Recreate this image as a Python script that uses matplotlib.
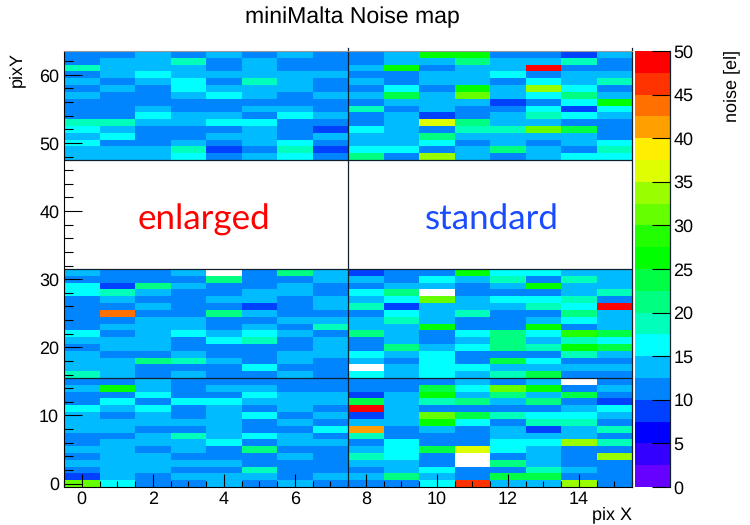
import matplotlib
matplotlib.use('Agg')
import matplotlib.pyplot as plt
from matplotlib.colors import ListedColormap, BoundaryNorm
from matplotlib.ticker import MultipleLocator
import numpy as np

plt.rcParams['font.family'] = ['Liberation Sans', 'DejaVu Sans']
plt.rcParams['text.hinting'] = 'no_hinting'
plt.rcParams['text.hinting_factor'] = 1

# noise per pixel in el, columns are pix X 0..15, first list is the highest pixY
n = np.nan
noise_48_63 = [
    [11, 11, 14, 11, 14, 11, 14, 11, 11, 14, 26, 26, 11, 11, 9, 14],
    [11, 14, 14, 19, 11, 14, 11, 11, 11, 14, 14, 21, 14, 14, 19, 11],
    [19, 14, 14, 14, 11, 14, 11, 11, 14, 26, 11, 14, 14, 49, 11, 11],
    [11, 14, 16, 14, 14, 14, 14, 14, 11, 11, 14, 14, 16, 11, 14, 14],
    [14, 11, 14, 16, 11, 19, 14, 11, 14, 11, 14, 14, 11, 16, 14, 19],
    [11, 14, 11, 16, 14, 14, 14, 11, 11, 16, 11, 26, 14, 34, 16, 11],
    [14, 11, 11, 14, 16, 14, 11, 14, 14, 24, 14, 31, 14, 16, 21, 14],
    [11, 11, 11, 11, 11, 11, 11, 11, 11, 14, 14, 14, 9, 11, 16, 26],
    [11, 11, 14, 11, 11, 14, 14, 11, 19, 11, 14, 11, 11, 16, 9, 16],
    [11, 11, 16, 14, 14, 11, 16, 14, 11, 14, 9, 11, 14, 19, 16, 14],
    [19, 19, 14, 14, 16, 16, 11, 11, 11, 14, 36, 21, 14, 14, 11, 11],
    [16, 14, 11, 11, 11, 14, 11, 9, 16, 14, 11, 19, 19, 31, 24, 11],
    [14, 16, 11, 11, 14, 14, 11, 14, 14, 14, 21, 14, 14, 14, 14, 11],
    [16, 11, 11, 14, 11, 14, 16, 11, 14, 14, 16, 11, 14, 11, 14, 16],
    [14, 14, 14, 19, 9, 11, 19, 9, 16, 16, 11, 14, 21, 14, 11, 19],
    [14, 14, 14, 16, 11, 14, 16, 11, 21, 11, 34, 14, 11, 14, 16, 16],
]
noise_32_47 = [[n] * 16 for _ in range(16)]
noise_16_31 = [
    [14, 11, 11, 14, n, 11, 21, 14, 9, 11, 11, 26, 16, 16, 14, 14],
    [11, 11, 11, 11, 21, 11, 11, 14, 14, 11, 16, 14, 19, 11, 19, 14],
    [16, 9, 21, 14, 11, 11, 14, 11, 11, 14, 14, 11, 14, 26, 14, 14],
    [16, 19, 14, 11, 11, 14, 14, 11, 16, 21, n, 11, 11, 11, 14, 19],
    [11, 14, 11, 11, 14, 14, 11, 14, 14, 16, 31, 14, 16, 16, 19, 11],
    [11, 11, 14, 11, 11, 9, 11, 14, 19, 9, 14, 14, 14, 19, 16, 49],
    [11, 44, 11, 11, 21, 14, 11, 11, 11, 16, 14, 19, 11, 11, 21, 14],
    [11, 11, 14, 14, 11, 11, 14, 14, 14, 19, 14, 11, 11, 14, 16, 14],
    [11, 14, 14, 14, 11, 14, 11, 19, 14, 14, 26, 11, 11, 26, 11, 14],
    [16, 11, 14, 16, 14, 16, 14, 11, 21, 14, 11, 16, 21, 16, 29, 24],
    [14, 14, 14, 11, 16, 19, 11, 14, 11, 14, 11, 14, 21, 14, 19, 16],
    [11, 14, 14, 11, 11, 11, 11, 14, 11, 21, 14, 16, 21, 19, 26, 24],
    [14, 11, 11, 14, 11, 11, 14, 14, 16, 14, 16, 11, 11, 11, 19, 14],
    [14, 14, 21, 19, 14, 11, 14, 11, 14, 11, 16, 11, 24, 16, 11, 11],
    [14, 14, 11, 11, 11, 16, 11, 11, n, 14, 16, 16, 14, 14, 14, 14],
    [19, 14, 11, 14, 11, 11, 14, 11, 16, 14, 16, 14, 19, 24, 11, 11],
]
noise_0_15 = [
    [11, 11, 14, 11, 11, 11, 11, 11, 11, 11, 11, 14, 11, 14, n, 11],
    [14, 26, 14, 11, 14, 14, 11, 11, 11, 11, 24, 16, 31, 26, 11, 14],
    [11, 11, 16, 11, 11, 16, 14, 14, 9, 14, 26, 14, 21, 14, 24, 11],
    [11, 16, 11, 16, 16, 14, 14, 14, 24, 14, 19, 21, 14, 21, 11, 9],
    [16, 14, 16, 11, 14, 11, 14, 11, 49, 14, 11, 11, 11, 11, 14, 16],
    [14, 11, 14, 11, 14, 16, 11, 14, 9, 14, 31, 24, 19, 16, 16, 14],
    [14, 14, 14, 14, 14, 11, 14, 11, 14, 14, 26, 16, 11, 19, 19, 11],
    [14, 14, 11, 11, 14, 11, 11, 16, 41, 11, 14, 11, 14, 9, 14, 19],
    [11, 11, 14, 19, 14, 16, 14, 11, 19, 11, 11, 11, 14, 14, 14, 11],
    [11, 14, 14, 14, 16, 11, 14, 14, 11, 16, 11, 11, 16, 16, 34, 19],
    [14, 14, 11, 14, 11, 21, 11, 11, 14, 16, 24, 36, 16, 14, 11, 11],
    [11, 14, 14, 11, 11, 11, 14, 11, 19, 16, 11, n, 11, 14, 11, 34],
    [14, 14, 14, 14, 14, 11, 11, 11, 14, 14, 11, n, 21, 14, 11, 11],
    [11, 14, 14, 11, 11, 19, 11, 11, 11, 14, 16, 11, 11, 19, 14, 11],
    [9, 14, 11, 14, 14, 14, 11, 14, 14, 21, 14, 11, 24, 24, 11, 11],
    [31, 16, 11, 11, 14, 11, 14, 11, 11, 11, 16, 46, 14, 14, 34, 11],
]

# ROOT rainbow palette, 20 contours between 0 and 50
palette = ['#6600ff', '#3300ff', '#0000ff', '#0040ff', '#0085ff', '#00bbff', '#00ffff',
           '#00ffbb', '#00ff80', '#00ff44', '#00ff00', '#22ff00', '#66ff00', '#99ff00',
           '#ddff00', '#ffee00', '#ffa000', '#ff7000', '#ff3300', '#ff0000']
levels = np.arange(0, 50.1, 2.5)
cb_ticks = [0, 5, 10, 15, 20, 25, 30, 35, 40, 45, 50]

z = np.array(noise_48_63 + noise_32_47 + noise_16_31 + noise_0_15, dtype=float)[::-1]
x_edges = np.arange(-0.5, 16)
y_edges = np.arange(-0.5, 64)

cmap = ListedColormap(palette)
cmap.set_bad('white')
norm = BoundaryNorm(levels, cmap.N)

fig = plt.figure(figsize=(7.5, 5.25), dpi=100)
ax = fig.add_axes([64 / 750, 38 / 525, 568 / 750, 436 / 525])
mesh = ax.pcolormesh(x_edges, y_edges, np.ma.masked_invalid(z), cmap=cmap, norm=norm)
ax.set_xlim(-0.5, 15.5)
ax.set_ylim(-0.5, 63.5)

ax.xaxis.set_major_locator(MultipleLocator(2))
ax.xaxis.set_minor_locator(MultipleLocator(0.5))
ax.yaxis.set_major_locator(MultipleLocator(10))
ax.yaxis.set_minor_locator(MultipleLocator(2))
ax.tick_params(axis='x', which='major', direction='in', length=9.4, width=0.8, labelsize=13, pad=3)
ax.tick_params(axis='x', which='minor', direction='in', length=4.5, width=0.8)
ax.tick_params(axis='y', which='major', direction='in', length=13, width=0.8, labelsize=13, pad=3.5)
ax.tick_params(axis='y', which='minor', direction='in', length=6.5, width=0.8)
ax.spines['top'].set_color('#999999')
ax.spines['top'].set_linewidth(0.8)
ax.spines['right'].set_visible(False)

# lines between the sectors
for yline in [15.5, 31.5, 47.5]:
    ax.plot([-0.5, 15.5], [yline, yline], color='#10202c', lw=0.9)
for xline in [7.5, 15.5]:
    ax.plot([xline, xline], [-0.5, 64], color='#10202c', lw=0.9, clip_on=False)

ax.text(3.45, 38.7, 'enlarged', color='#ff0000', fontsize=25.3, family='Lato', ha='center', va='center')
ax.text(11.56, 38.7, 'standard', color='#1a4cff', fontsize=25, family='Lato', ha='center', va='center')

cax = fig.add_axes([635 / 750, 38 / 525, 35 / 750, 436 / 525])
cb = fig.colorbar(mesh, cax=cax, ticks=cb_ticks, spacing='proportional')
cb.outline.set_visible(False)
cax.tick_params(direction='in', length=13, width=0.8, labelsize=13, pad=2.5)
cax.minorticks_off()
cax.plot([1, 1], [0, 1], transform=cax.transAxes, color='#10202c', lw=0.9, clip_on=False)

fig.text(352 / 750, 1 - 17 / 525, 'miniMalta Noise map', fontsize=16.7, ha='center', va='center')
fig.text(632 / 750, 1 - 515 / 525, 'pix X', fontsize=13, ha='right', va='center')
fig.text(16 / 750, 1 - 52 / 525, 'pixY', fontsize=13, rotation=90, ha='center', va='top')
fig.text(732 / 750, 1 - 50 / 525, 'noise [el]', fontsize=13, rotation=90, ha='center', va='top')

fig.savefig('out.png', dpi=100)
